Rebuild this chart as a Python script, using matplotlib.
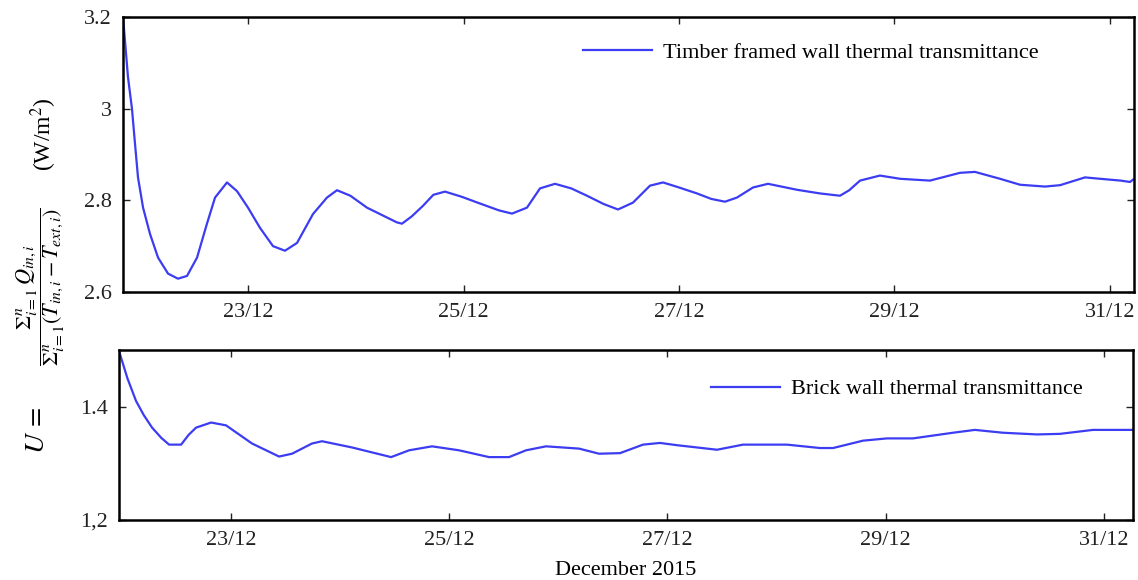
import matplotlib
matplotlib.use('Agg')
import matplotlib.pyplot as plt

# Timber framed wall thermal transmittance (day of December, W/m2)
timber_days = [21.840, 21.886, 21.923, 21.951, 21.979, 22.026, 22.090, 22.165, 22.258, 22.350,
               22.434, 22.527, 22.619, 22.694, 22.805, 22.898, 23.000,
               23.111, 23.232, 23.343, 23.455, 23.603, 23.733, 23.826, 23.950, 24.104, 24.225,
               24.380, 24.429, 24.520, 24.624, 24.720, 24.828, 24.980, 25.153, 25.330, 25.450,
               25.589, 25.710, 25.849, 26.000, 26.146, 26.300, 26.434, 26.573, 26.731, 26.852,
               27.000, 27.167, 27.300, 27.427, 27.538, 27.687, 27.826, 28.095, 28.309, 28.494,
               28.580, 28.680, 28.865, 29.051, 29.329, 29.608, 29.747, 29.979, 30.165, 30.397,
               30.536, 30.768, 30.907, 31.100, 31.186, 31.213]
timber_u = [3.200, 3.069, 3.000, 2.924, 2.850, 2.784, 2.727, 2.675, 2.640, 2.629,
            2.635, 2.675, 2.749, 2.806, 2.839, 2.820, 2.784,
            2.740, 2.700, 2.690, 2.707, 2.770, 2.806, 2.822, 2.810, 2.784, 2.770,
            2.752, 2.749, 2.765, 2.788, 2.812, 2.819, 2.808, 2.793, 2.778, 2.771,
            2.784, 2.826, 2.836, 2.826, 2.810, 2.792, 2.780, 2.795, 2.832, 2.839,
            2.828, 2.815, 2.803, 2.797, 2.806, 2.828, 2.836, 2.823, 2.815, 2.810,
            2.822, 2.843, 2.854, 2.847, 2.843, 2.860, 2.862, 2.847, 2.834, 2.830,
            2.833, 2.850, 2.847, 2.843, 2.840, 2.845]

# Brick wall thermal transmittance
brick_days = [21.973, 22.050, 22.129, 22.200, 22.276, 22.360, 22.432, 22.542, 22.610, 22.679,
              22.817, 22.954, 23.192, 23.440, 23.559, 23.742, 23.834, 24.109, 24.467, 24.632,
              24.842, 25.090, 25.365, 25.548, 25.704, 25.887, 26.190, 26.373, 26.566, 26.776,
              26.932, 27.088, 27.455, 27.693, 28.096, 28.399, 28.518, 28.793, 29.013, 29.251,
              29.618, 29.819, 30.076, 30.388, 30.598, 30.901, 31.259]
brick_u = [1.498, 1.450, 1.410, 1.385, 1.363, 1.345, 1.333, 1.333, 1.350, 1.363,
           1.372, 1.367, 1.335, 1.312, 1.317, 1.335, 1.339, 1.328, 1.311, 1.323,
           1.330, 1.323, 1.311, 1.311, 1.323, 1.330, 1.326, 1.317, 1.318, 1.333,
           1.336, 1.332, 1.324, 1.333, 1.333, 1.327, 1.327, 1.340, 1.344, 1.344,
           1.354, 1.359, 1.354, 1.351, 1.352, 1.359, 1.359]

x_ticks = [23, 25, 27, 29, 31]
x_labels = ['23/12', '25/12', '27/12', '29/12', '31/12']
top_yticks = [2.6, 2.8, 3.0, 3.2]
top_ylabels = ['2.6', '2.8', '3', '3.2']
bot_yticks = [1.2, 1.4]
bot_ylabels = ['1,2', '1.4']

plt.rcParams['font.family'] = ['Liberation Serif', 'DejaVu Serif']
plt.rcParams['mathtext.fontset'] = 'stix'
plt.rcParams['axes.linewidth'] = 1.8

line_color = '#3c3cf2'

fig = plt.figure(figsize=(11.38, 5.8), dpi=100)
ax_top = fig.add_axes([0.1081, 0.4966, 0.8884, 0.4741])
ax_bot = fig.add_axes([0.1046, 0.1034, 0.8910, 0.2932])


def style_axes(ax, yticks, ylabels):
    ax.set_xticks(x_ticks)
    ax.set_xticklabels(x_labels)
    ax.set_yticks(yticks)
    ax.set_yticklabels(ylabels)
    ax.tick_params(direction='in', top=True, right=True, length=5, width=1,
                   labelsize=16, colors='#222222', pad=8)


ax_top.plot(timber_days, timber_u, color=line_color, lw=1.6,
            label='Timber framed wall thermal transmittance')
ax_top.set_xlim(21.840, 31.223)
ax_top.set_ylim(2.6, 3.2)
style_axes(ax_top, top_yticks, top_ylabels)
ax_top.legend(loc='center', bbox_to_anchor=(0.68, 0.87), frameon=False,
              fontsize=16, handlelength=3.1, handletextpad=0.5)

ax_bot.plot(brick_days, brick_u, color=line_color, lw=1.6,
            label='Brick wall thermal transmittance')
ax_bot.set_xlim(21.973, 31.268)
ax_bot.set_ylim(1.2, 1.5)
style_axes(ax_bot, bot_yticks, bot_ylabels)
ax_bot.legend(loc='center', bbox_to_anchor=(0.767, 0.77), frameon=False,
              fontsize=16, handlelength=3.1, handletextpad=0.5)
ax_bot.set_xlabel('December 2015', fontsize=16, labelpad=8)

# y label, built in three pieces so the fraction can be smaller than "U ="
W, H = 1138, 580
fig.text(37 / W, 1 - 430 / H, r'$U\,=$', rotation=90, ha='center', va='center',
         fontsize=20)
fig.text(41 / W, 1 - 287 / H,
         r'$\dfrac{\Sigma_{i=1}^{n}\,Q_{in,i}}{\Sigma_{i=1}^{n}(T_{in,i}-T_{ext,i})}$',
         rotation=90, ha='center', va='center', fontsize=16)
fig.text(44 / W, 1 - 134 / H, r'(W/m$^2$)', rotation=90, ha='center', va='center',
         fontsize=17)

fig.savefig('out.png', dpi=100)
